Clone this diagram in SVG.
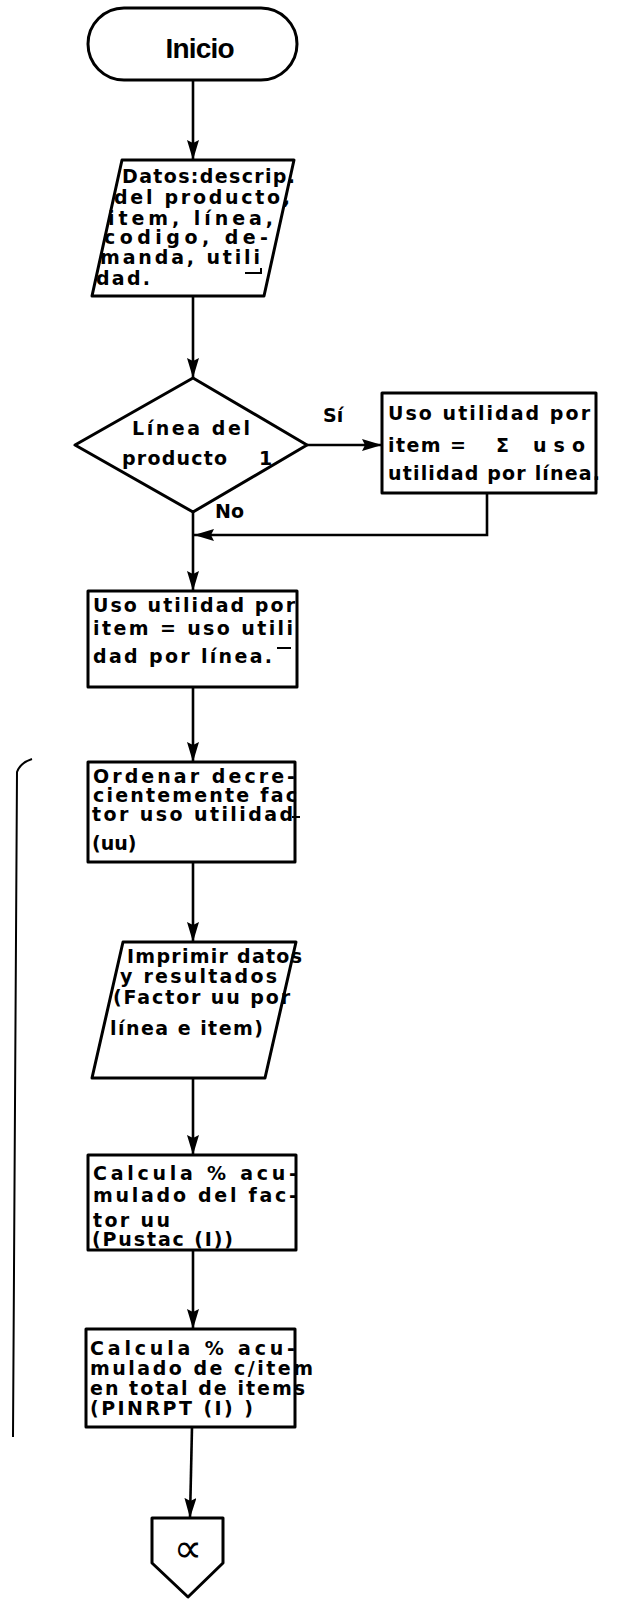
<svg xmlns="http://www.w3.org/2000/svg" width="623" height="1600" viewBox="0 0 623 1600">
<defs>
<marker id="ah" markerUnits="userSpaceOnUse" markerWidth="22" markerHeight="14" refX="20" refY="6" orient="auto">
<path d="M0,0 L20,6 L0,12 L3,6 Z" fill="#000"/>
</marker>
<style>
.s{fill:#fff;stroke:#000;stroke-width:3;stroke-linejoin:round}
.t{font-family:"DejaVu Sans","Liberation Sans",sans-serif;font-weight:bold;font-size:19px;fill:#000}
.c{fill:none;stroke:#000;stroke-width:2.6}
.m{fill:none;stroke:#000;stroke-width:2}
</style>
</defs>
<rect width="623" height="1600" fill="#fff"/>

<g id="connectors">
<line class="c" x1="193" y1="80" x2="193" y2="160" marker-end="url(#ah)"/>
<line class="c" x1="193" y1="296" x2="193" y2="378" marker-end="url(#ah)"/>
<line class="c" x1="307" y1="445" x2="382" y2="445" marker-end="url(#ah)"/>
<polyline class="c" points="487,493 487,535 194,535" marker-end="url(#ah)"/>
<line class="c" x1="193" y1="512" x2="193" y2="591" marker-end="url(#ah)"/>
<line class="c" x1="193" y1="687" x2="193" y2="762" marker-end="url(#ah)"/>
<line class="c" x1="193" y1="862" x2="193" y2="942" marker-end="url(#ah)"/>
<line class="c" x1="193" y1="1078" x2="193" y2="1155" marker-end="url(#ah)"/>
<line class="c" x1="193" y1="1250" x2="193" y2="1329" marker-end="url(#ah)"/>
<line class="c" x1="192" y1="1427" x2="190" y2="1518" marker-end="url(#ah)"/>
<text class="t" x="323" y="422" font-size="22">Sí</text>
<text class="t" x="215" y="518" font-size="22">No</text>
</g>

<g id="inicio">
<rect class="s" x="88" y="8" width="209" height="72" rx="36" ry="36"/>
<text x="200" y="58" font-family="Liberation Sans,Arial,sans-serif" font-weight="bold" font-size="28" text-anchor="middle" textLength="69">Inicio</text>
</g>

<g id="datos">
<polygon class="s" points="122,160 294,160 264,296 92,296"/>
<text class="t" x="122" y="183" textLength="173">Datos:descrip.</text>
<text class="t" x="114" y="204" textLength="176">del producto,</text>
<text class="t" x="108" y="225" textLength="165">item, línea,</text>
<text class="t" x="104" y="244" textLength="164">codigo, de-</text>
<text class="t" x="100" y="264" textLength="160">manda, utili</text>
<text class="t" x="96" y="285" textLength="54">dad.</text>
<polyline class="m" points="245,273 261,273 261,268"/>
</g>

<g id="decision">
<polygon class="s" points="193,378 307,445 193,512 75,445"/>
<text class="t" x="132" y="435" textLength="118">Línea del</text>
<text class="t" x="122" y="465" textLength="105">producto</text>
<text class="t" x="259" y="465">1</text>
</g>

<g id="suma">
<rect class="s" x="382" y="393" width="214" height="100"/>
<text class="t" x="388" y="420" textLength="202">Uso utilidad por</text>
<text class="t" x="388" y="452" textLength="78">item =</text>
<text class="t" x="496" y="452" font-size="23">Σ</text>
<text class="t" x="533" y="452" textLength="52">uso</text>
<text class="t" x="388" y="480" textLength="212">utilidad por línea.</text>
</g>

<g id="uso">
<rect class="s" x="88" y="591" width="209" height="96"/>
<text class="t" x="93" y="612" textLength="202">Uso utilidad por</text>
<text class="t" x="93" y="635" textLength="200">item = uso utili</text>
<text class="t" x="93" y="663" textLength="179">dad por línea.</text>
<line class="m" x1="277" y1="648" x2="291" y2="648"/>
</g>

<g id="ordenar">
<rect class="s" x="88" y="762" width="207" height="100"/>
<text class="t" x="93" y="783" textLength="202">Ordenar decre-</text>
<text class="t" x="93" y="802" textLength="204">cientemente fac</text>
<text class="t" x="92" y="821" textLength="201">tor uso utilidad</text>
<line class="m" x1="292" y1="817" x2="300" y2="817"/>
<text class="t" x="92" y="850">(uu)</text>
</g>

<g id="imprimir">
<polygon class="s" points="123,942 296,942 265,1078 92,1078"/>
<text class="t" x="127" y="963" textLength="175">Imprimir datos</text>
<text class="t" x="120" y="983" textLength="157">y resultados</text>
<text class="t" x="113" y="1004" textLength="177">(Factor uu por</text>
<text class="t" x="110" y="1035" textLength="153">línea e item)</text>
</g>

<g id="pustac">
<rect class="s" x="88" y="1155" width="208" height="95"/>
<text class="t" x="93" y="1180" textLength="204">Calcula % acu-</text>
<text class="t" x="93" y="1202" textLength="204">mulado del fac-</text>
<text class="t" x="93" y="1227" textLength="77">tor uu</text>
<text class="t" x="92" y="1246" textLength="141">(Pustac (I))</text>
</g>

<g id="pinrpt">
<rect class="s" x="86" y="1329" width="209" height="98"/>
<text class="t" x="90" y="1355" textLength="205">Calcula % acu-</text>
<text class="t" x="90" y="1375" textLength="223">mulado de c/item</text>
<text class="t" x="90" y="1395" textLength="215">en total de items</text>
<text class="t" x="90" y="1415" textLength="163">(PINRPT (I) )</text>
</g>

<g id="conector">
<polygon class="s" points="152,1518 223,1518 223,1563 188,1597 152,1563"/>
<text x="188" y="1562" font-family="DejaVu Sans,sans-serif" font-size="40" text-anchor="middle">∝</text>
</g>

<g id="bracket">
<path class="m" d="M32,759 Q20,763 17,772 L13,1437"/>
</g>
</svg>
